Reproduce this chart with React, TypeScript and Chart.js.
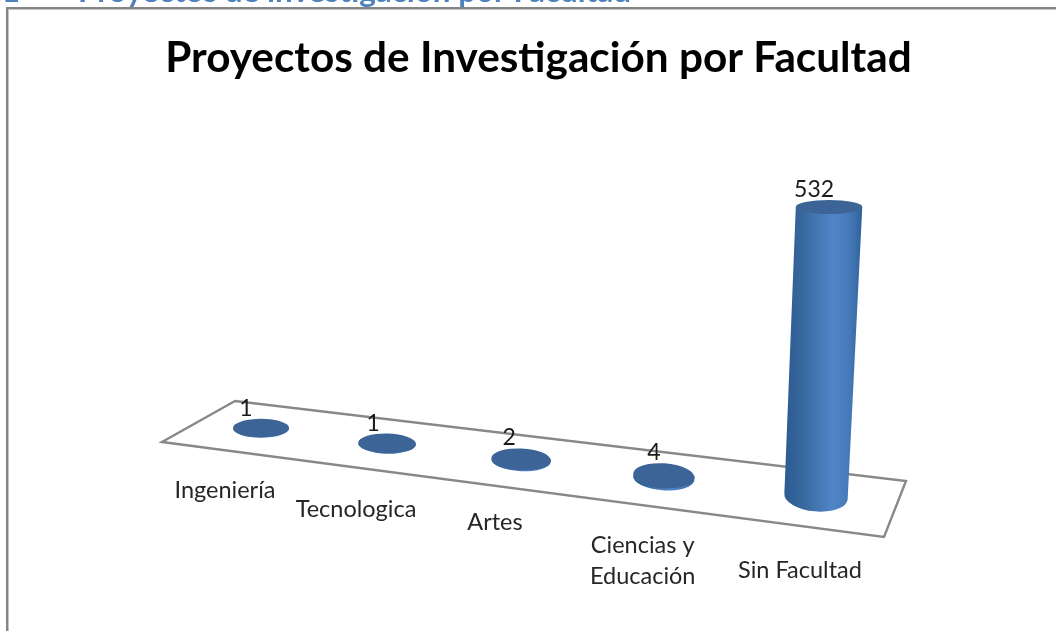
import React, { useEffect, useRef } from "react";
import { Chart, registerables } from "chart.js";

Chart.register(...registerables);

const categories: (string | string[])[] = [
  "Ingeniería",
  "Tecnologica",
  "Artes",
  ["Ciencias y", "Educación"],
  "Sin Facultad",
];
const proyectos = [1, 1, 2, 4, 532];
const chartTitle = "Proyectos de Investigación por Facultad";
const headingNumber = "1.1";
const headingText = "Proyectos de investigación por Facultad";

const FONT = "Lato, Carlito, Calibri, sans-serif";
const labelDrop = [70, 73, 70, 75, 81];
const valueShift = [-15, -14, -12, -10, -15];

// Floor perspective: maps the category index to a point on the tilted floor
const floorX = (u: number) => (114.55 * u + 261) / (1 - 0.02966 * u);
const floorY = (x: number) => 396.4 + 0.1228 * x;

const cylinderPlugin = {
  id: "cylinder3d",
  beforeDatasetsDraw(chart: any) {
    const ctx = chart.ctx as CanvasRenderingContext2D;
    ctx.save();
    // Frame around the pasted chart
    ctx.fillStyle = "#c4c4c4";
    ctx.fillRect(8, 9, 1048, 1);
    ctx.fillRect(8, 9, 1, 622);
    ctx.fillStyle = "#858585";
    ctx.fillRect(6, 7, 1050, 2);
    ctx.fillRect(6, 7, 2, 624);

    // Section heading clipped by the top of the page
    ctx.fillStyle = "#4f81bd";
    ctx.font = `bold 31.4px ${FONT}`;
    ctx.textBaseline = "alphabetic";
    ctx.textAlign = "right";
    ctx.fillText(headingNumber, 20, 2);
    ctx.textAlign = "left";
    ctx.fillText(headingText, 78, 2);

    // Floor
    ctx.strokeStyle = "#888888";
    ctx.lineWidth = 2.4;
    ctx.lineJoin = "miter";
    ctx.beginPath();
    ctx.moveTo(235, 401);
    ctx.lineTo(162, 442);
    ctx.lineTo(884, 537);
    ctx.lineTo(906, 481);
    ctx.closePath();
    ctx.stroke();
    ctx.restore();
  },
  afterDatasetsDraw(chart: any) {
    const ctx = chart.ctx as CanvasRenderingContext2D;
    const meta = chart.getDatasetMeta(0);
    const xs = chart.scales.x;
    const x0 = xs.getPixelForValue(0);
    const step = xs.getPixelForValue(1) - x0;
    ctx.save();
    meta.data.forEach((el: any, i: number) => {
      const u = (el.x - x0) / step;
      const depth = 1 / (1 - 0.02966 * u);
      const cx0 = floorX(u);
      const cy0 = floorY(cx0);
      const rx0 = (el.width * depth) / 2;
      const h = el.base - el.y;
      const t = Math.min(1, h / 288);
      const cxT = cx0 + 0.045 * h;
      const cyT = cy0 - h;
      const rxT = rx0 * (1 + 0.00016 * h);
      const baseRatio = 0.33 + 0.0085 * u * u;
      const ry0 = rx0 * baseRatio;
      const ryT = rxT * (baseRatio * (1 - t) + 0.21 * t);
      const tilt = 0.0225 * u;

      const grad = ctx.createLinearGradient(cx0 - rx0, 0, cxT + rxT, 0);
      grad.addColorStop(0, "#2c5a92");
      grad.addColorStop(0.25, "#39699f");
      grad.addColorStop(0.62, "#5085c8");
      grad.addColorStop(0.85, "#4478b6");
      grad.addColorStop(1, "#2f619c");
      ctx.fillStyle = grad;
      ctx.beginPath();
      ctx.moveTo(cxT - rxT, cyT);
      ctx.lineTo(cx0 - rx0, cy0);
      ctx.ellipse(cx0, cy0, rx0, ry0, tilt, Math.PI, 0, true);
      ctx.lineTo(cxT + rxT, cyT);
      ctx.closePath();
      ctx.fill();

      ctx.fillStyle = "#3c6496";
      ctx.beginPath();
      ctx.ellipse(cxT, cyT, rxT, ryT, t > 0.5 ? 0 : tilt, 0, Math.PI * 2);
      ctx.fill();

      // Value label
      ctx.fillStyle = "#1a1a1a";
      ctx.font = `23px ${FONT}`;
      ctx.textAlign = "center";
      ctx.textBaseline = "alphabetic";
      ctx.fillText(String(proyectos[i]), cxT + valueShift[i], cyT - ryT - 3);

      // Category label
      ctx.fillStyle = "#262626";
      ctx.font = `23.5px ${FONT}`;
      const lines = ([] as string[]).concat(categories[i] as any);
      lines.forEach((line, k) => {
        ctx.fillText(line, cx0 - 36 + 5 * u, cy0 + labelDrop[i] + k * 31);
      });
    });
    ctx.restore();
  },
};

export default function App() {
  const ref = useRef<HTMLCanvasElement>(null);
  useEffect(() => {
    const chart = new Chart(ref.current!, {
      type: "bar",
      data: {
        labels: categories as any,
        datasets: [
          {
            label: "Proyectos",
            data: proyectos,
            backgroundColor: "rgba(0,0,0,0)",
            borderWidth: 0,
            categoryPercentage: 1,
            barPercentage: 0.2705,
          },
        ],
      },
      options: {
        responsive: false,
        animation: false,
        layout: { padding: { left: 21, right: 0, top: 0, bottom: 136 } },
        plugins: {
          legend: { display: false },
          tooltip: { enabled: false },
          title: {
            display: true,
            text: chartTitle,
            color: "#000000",
            font: { family: FONT, size: 42.3, weight: "bold", lineHeight: 1.2 },
            padding: { top: 33.4, bottom: 85.8 },
          },
        },
        scales: {
          x: { display: false, offset: true },
          y: { display: false, min: 0, max: 597 },
        },
      },
      plugins: [cylinderPlugin],
    });
    return () => chart.destroy();
  }, []);
  return (
    <div style={{ position: "fixed", left: 0, top: 0, width: 1056, height: 631, overflow: "hidden", background: "#fff" }}>
      <canvas ref={ref} width={1056} height={631} style={{ display: "block" }} />
    </div>
  );
}
